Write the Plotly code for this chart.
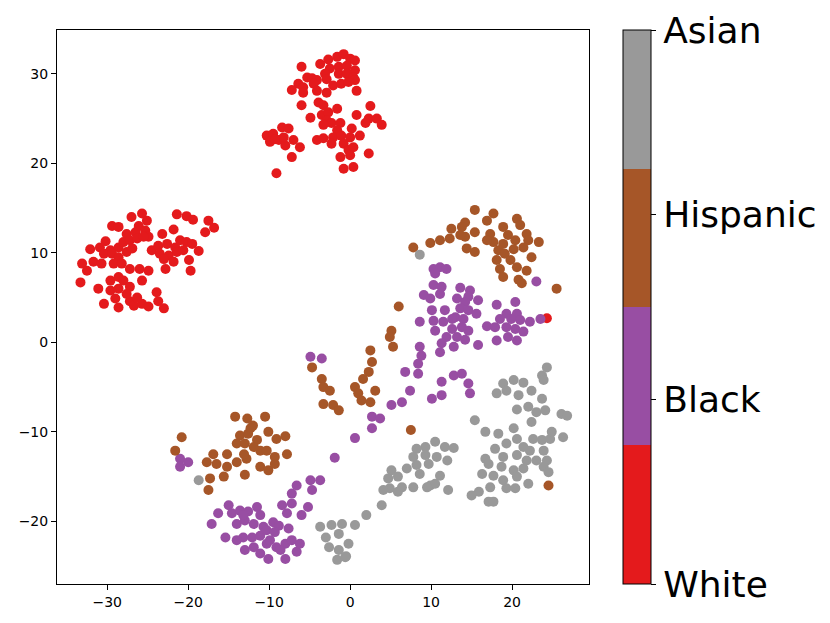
import plotly.graph_objects as go

# ---- data (t-SNE coordinates) ----
categories = ["White", "Black", "Hispanic", "Asian"]
colors = ["#e41a1c", "#984ea3", "#a65628", "#999999"]

white_x = [-6.0, -3.7, -2.7, -1.6, -0.8, 0.0, 0.6, -2.5, -1.4, -0.4,
           0.6, -1.4, -0.4, 0.4, 0.6, -3.1, -2.9, -5.3, -4.7, -4.1,
           -4.5, -6.4, -7.2, -5.8, -5.8, -4.1, -2.9, -2.1, -1.1, -0.2,
           0.8, -6.0, -3.9, -3.3, -4.9, -3.5, -2.7, -1.6, -2.9, -2.3,
           -3.3, -1.2, -1.6, -2.1, -1.1, 0.0, 0.8, 2.5, 2.3, 3.3,
           3.9, 1.9, 1.2, 0.2, -0.8, -0.2, 0.4, 0.0, -1.2, -0.8,
           0.4, 2.3, -4.1, -3.3, -2.3, -10.3, -9.5, -8.4, -7.6, -9.9,
           -8.8, -8.0, -7.0, -6.2, -7.2, -8.2, -9.1, -9.3, 24.3, -27.0,
           -25.7, -25.1, -21.4, -20.2, -19.4, -17.5, -16.8, -17.9, -29.4, -28.6,
           -27.6, -26.5, -26.1, -25.3, -24.9, -23.2, -21.8, -30.2, -30.9, -32.1,
           -29.6, -28.6, -28.0, -27.2, -26.3, -25.5, -24.5, -23.7, -22.6, -21.6,
           -21.0, -20.2, -19.5, -18.7, -30.4, -29.4, -28.6, -27.6, -26.9, -23.5,
           -22.4, -21.4, -20.6, -33.1, -32.5, -31.7, -30.7, -29.2, -28.2, -23.0,
           -21.8, -19.9, -19.7, -22.8, -33.3, -31.1, -29.6, -28.6, -27.2, -26.0,
           -24.9, -28.0, -27.2, -25.7, -29.6, -28.6, -30.4, -29.0, -28.6, -27.2,
           -26.7, -25.7, -24.9, -23.9, -23.7, -23.0, -27.6, -26.3]
white_y = [30.8, 31.1, 31.6, 31.9, 32.2, 31.7, 31.5, 30.6, 30.8, 30.9,
           30.4, 30.0, 30.0, 29.6, 29.3, 30.0, 29.4, 29.6, 29.5, 29.3,
           28.9, 28.9, 28.2, 28.5, 27.9, 28.1, 27.9, 28.7, 28.9, 29.1,
           28.1, 26.5, 26.8, 26.5, 25.1, 25.4, 25.7, 26.1, 24.8, 24.5,
           24.3, 24.5, 23.7, 22.9, 23.1, 22.9, 25.4, 26.4, 25.0, 25.0,
           24.3, 24.5, 23.1, 23.9, 22.2, 21.5, 21.8, 20.9, 20.7, 19.4,
           19.6, 21.1, 22.6, 22.8, 22.2, 23.1, 23.3, 24.0, 23.9, 22.4,
           22.6, 22.0, 22.6, 21.8, 20.7, 22.9, 18.9, 22.7, 2.7, 14.0,
           14.4, 13.6, 14.3, 14.1, 13.7, 13.6, 12.8, 12.3, 13.0, 12.9,
           12.1, 12.3, 13.0, 12.5, 11.8, 12.1, 12.6, 11.3, 10.6, 10.4,
           10.3, 10.6, 11.2, 11.4, 11.6, 11.8, 10.3, 10.8, 11.0, 10.6,
           11.4, 11.2, 11.0, 10.2, 9.9, 9.9, 9.5, 10.1, 10.5, 9.9,
           9.7, 10.1, 10.3, 8.8, 8.0, 9.0, 8.8, 8.8, 8.8, 9.3,
           9.0, 9.2, 8.0, 8.2, 6.7, 6.0, 6.9, 7.3, 8.2, 8.2,
           8.0, 6.9, 6.2, 6.9, 5.8, 6.0, 4.3, 4.9, 3.9, 4.6,
           4.1, 4.3, 4.0, 5.6, 4.6, 3.8, 5.4, 5.0]

black_x = [10.3, 11.1, 11.9, 10.5, 23.0, 10.3, 11.3, 11.1, 9.1, 9.9,
           13.6, 14.8, 14.6, 13.2, 15.8, 14.2, 10.1, 11.7, 13.6, 14.6,
           15.6, 13.0, 14.0, 12.6, 8.6, 10.3, 11.5, 10.5, 12.6, 13.8,
           14.6, 11.9, 13.2, 11.3, 12.8, 14.2, 15.8, 18.1, 20.4, 19.3,
           20.6, 18.5, 19.9, 21.0, 22.2, 23.5, 16.9, 17.9, 19.3, 20.4,
           21.4, 18.1, 19.5, 20.6, 8.6, 8.8, 11.1,
           -4.9, -3.5, 8.4, 6.8, 8.4, 11.3, 12.8, 13.8, 7.4, 10.1,
           11.3, 5.1, 6.4, 2.7, 3.7, 2.7, 0.6, 14.6, 14.8,
           -21.0, -21.0, -20.0, -1.9, -6.6, -7.2, -4.9, -3.7, -4.7, -15.0,
           -16.3, -17.1, -15.4, -14.6, -13.6, -12.6, -11.5, -14.0, -13.0, -11.9,
           -10.7, -9.5, -8.8, -7.6, -13.2, -12.1, -11.1, -10.3, -9.1, -13.0,
           -11.1, -10.1, -8.0, -6.6, -6.2, -7.8, -8.4, -7.2, -6.0, -5.2,
           -13.2, -11.1, -10.3, -9.3, -9.9, -8.0, -7.2, -8.6, -11.9, -14.0]
black_y = [8.2, 8.4, 8.2, 7.7, 6.8, 6.4, 6.2, 5.4, 5.3, 4.9,
           6.1, 5.8, 5.1, 4.9, 4.7, 4.5, 3.6, 3.6, 3.8, 3.6,
           3.2, 2.8, 2.6, 2.6, 2.3, 2.4, 2.3, 1.3, 1.5, 1.7,
           1.3, 0.6, 0.6, -0.1, -0.5, 0.3, -0.3, 4.2, 4.5, 3.2,
           3.2, 2.6, 2.6, 2.5, 2.3, 2.6, 1.8, 1.7, 1.7, 1.5,
           1.2, 0.2, 0.6, 0.2, -0.5, -1.5, -1.1,
           -1.6, -1.8, -2.4, -3.3, -3.5, -4.4, -3.7, -3.5, -5.4, -6.3,
           -5.9, -7.0, -6.7, -8.3, -8.5, -9.6, -10.7, -4.6, -5.7,
           -13.0, -13.9, -13.4, -12.9, -16.0, -16.9, -15.4, -15.4, -16.5, -18.2,
           -19.1, -20.3, -21.8, -19.1, -18.8, -18.9, -18.4, -20.3, -19.9, -20.3,
           -20.6, -20.1, -20.5, -20.8, -21.8, -21.8, -21.6, -22.5, -22.9, -23.2,
           -23.6, -24.2, -24.2, -23.4, -22.5, -19.1, -18.2, -18.0, -19.3, -18.4,
           -19.3, -19.3, -21.0, -21.2, -22.1, -22.5, -22.1, -23.2, -22.9, -22.1]

hispanic_x = [15.4, 17.7, 16.9, 14.2, 12.5, 13.8, 20.6, 21.0, 18.9, 21.8,
              19.5, 17.3, 15.4, 14.2, 13.6, 12.3, 11.1, 9.9, 7.8, 17.7,
              16.9, 20.4, 22.0, 23.3, 14.4, 15.4, 18.3, 19.1, 20.2, 21.4,
              22.4, 18.1, 19.8, 20.6, 18.5, 21.8, 18.9, 20.8, 21.2, 25.5,
              18.9, 6.0, 5.1, 4.9, 5.3,
              -4.7, -3.5, -3.3, -2.5, -3.3, -2.1, -1.4, 2.5, 2.7, 2.3,
              1.6, 0.6, 1.0, 1.4, 2.5, 3.1, 7.5, 24.5,
              -14.2, -12.7, -10.5, -12.0, -13.6, -12.6, -10.1, -9.1, -8.0, -20.8,
              -21.6, -16.9, -15.2, -14.0, -13.0, -11.5, -11.1, -10.3, -9.3, -7.8,
              -17.7, -16.5, -14.0, -12.8, -11.1, -10.1, -9.3, -11.9, -17.3, -15.6,
              -13.0, -17.5, -12.3, -13.1, -15.2]
hispanic_y = [14.8, 14.4, 13.6, 13.4, 12.7, 12.9, 13.8, 13.1, 12.9, 12.1,
              12.0, 12.1, 12.3, 11.8, 12.0, 11.6, 11.4, 11.1, 10.6, 11.2,
              11.4, 11.4, 11.4, 11.2, 10.5, 10.1, 10.3, 9.9, 10.4, 10.6,
              9.5, 9.2, 9.2, 8.4, 8.2, 8.0, 7.3, 7.0, 6.6, 6.0,
              11.0, 4.0, 1.3, 0.6, -0.5,
              -2.8, -4.1, -5.0, -5.4, -6.9, -7.0, -7.6, -0.9, -2.2, -3.3,
              -4.1, -5.0, -5.7, -6.5, -6.7, -5.4, -9.8, -16.0,
              -8.3, -8.5, -8.3, -9.3, -10.4, -10.2, -10.0, -10.8, -10.5, -10.6,
              -12.1, -12.5, -12.5, -11.3, -11.3, -10.9, -12.1, -12.1, -12.8, -12.5,
              -13.4, -13.6, -13.4, -13.0, -13.9, -14.3, -13.6, -11.7, -15.2, -15.0,
              -14.8, -16.5, -9.6, -12.5, -13.9]

asian_x = [8.6,
           24.3, 23.7, 23.9, 18.9, 20.2, 21.4, 19.3, 18.1, 20.8, 22.4,
           23.7, 20.6, 22.0, 23.0, 24.1, 26.1, 26.8, 15.4, 16.7, 18.3,
           19.3, 20.2, 20.6, 22.4, 22.6, 23.7, 24.7, 24.9, 26.3, 17.9,
           21.4, 22.2, 23.9, 18.9, 20.6, 21.8, 23.0, 24.3, 16.7, 17.1,
           18.7, 20.2, 21.4, 23.9, 16.3, 17.7, 18.9, 20.6, 24.5, 22.0,
           19.3, 20.4, 17.3, 15.9, 15.0, 17.1, 17.7,
           10.5, 9.3, 8.2, 11.7, 12.8, 7.8, 9.3, 10.7, 12.0, 7.0,
           8.2, 9.7, 8.6, 5.1, 5.9, 4.7, 11.1, 9.9, 7.8, 10.5,
           6.4, 4.9, 4.1, 5.9, 12.1, 3.9, 9.5, 2.0,
           -18.7, -3.7, -2.3, -1.0, 0.6, -3.0, -1.4, -0.2, -2.6, -1.4,
           -0.5, -1.6, -0.6]
asian_y = [9.8,
           -2.8, -3.7, -4.2, -4.6, -4.2, -4.5, -5.4, -5.7, -5.9, -5.4,
           -6.3, -7.5, -7.2, -7.8, -7.6, -8.0, -8.2, -8.7, -10.0, -10.2,
           -11.3, -9.6, -10.8, -8.9, -10.8, -10.9, -10.8, -10.0, -10.6, -11.9,
           -11.7, -12.1, -12.1, -12.8, -12.6, -13.2, -13.2, -13.2, -13.0, -13.6,
           -13.9, -14.3, -14.1, -13.9, -14.7, -14.9, -15.4, -15.0, -14.5, -15.8,
           -16.3, -16.3, -16.2, -16.7, -17.1, -17.8, -17.8,
           -11.1, -11.7, -11.9, -11.7, -11.8, -12.8, -12.6, -12.8, -13.2, -14.1,
           -13.7, -13.6, -14.7, -14.3, -15.0, -15.2, -14.9, -16.0, -16.2, -15.8,
           -16.2, -16.3, -16.5, -16.7, -16.5, -18.2, -16.2, -19.3,
           -15.4, -20.6, -20.4, -20.3, -20.4, -21.8, -21.4, -22.5, -22.9, -23.2,
           -23.9, -24.3, -24.0]

x_ticks = [-30, -20, -10, 0, 10, 20]
y_ticks = [-20, -10, 0, 10, 20, 30]

# ---- build single trace (codes 0..3) ----
series = [(white_x, white_y), (black_x, black_y), (hispanic_x, hispanic_y), (asian_x, asian_y)]
all_x, all_y, codes = [], [], []
for code, (xs, ys) in enumerate(series):
    all_x += xs
    all_y += ys
    codes += [code] * len(xs)

n = len(categories)
colorscale = []
for i, c in enumerate(colors):
    colorscale.append([i / n, c])
    colorscale.append([(i + 1) / n, c])

FONT = "DejaVu Sans"

fig = go.Figure(go.Scatter(
    x=all_x, y=all_y, mode="markers",
    marker=dict(
        size=10, color=codes, colorscale=colorscale, cmin=0, cmax=n - 1,
        line=dict(width=0), opacity=1,
        colorbar=dict(
            x=(623 - 57) / 532, xanchor="left", xpad=0,
            y=0.5, yanchor="middle", ypad=0,
            len=1, lenmode="fraction",
            thickness=28, thicknessmode="pixels",
            outlinewidth=1, outlinecolor="black",
            tickmode="array", tickvals=list(range(n)), ticktext=categories,
            ticks="outside", ticklen=5, tickwidth=1, tickcolor="black",
            tickfont=dict(family=FONT, size=36, color="black"),
        ),
    ),
    showlegend=False, hoverinfo="x+y",
))

axis_common = dict(
    ticks="outside", ticklen=5, tickwidth=1, tickcolor="black",
    showline=True, linecolor="black", linewidth=1, mirror=True,
    showgrid=False, zeroline=False,
    tickfont=dict(family=FONT, size=14, color="black"),
)

# page body has an 8px margin, so the figure is sized/offset to compensate
fig.update_layout(
    width=822, height=615,
    margin=dict(l=49, r=241, t=22, b=39),
    plot_bgcolor="white", paper_bgcolor="white",
    font=dict(family=FONT, color="black"),
    xaxis=dict(range=[-36.2, 29.5], tickvals=x_ticks, **axis_common),
    yaxis=dict(range=[-27.0, 34.9], tickvals=y_ticks, **axis_common),
)

fig.write_html("out.html")
